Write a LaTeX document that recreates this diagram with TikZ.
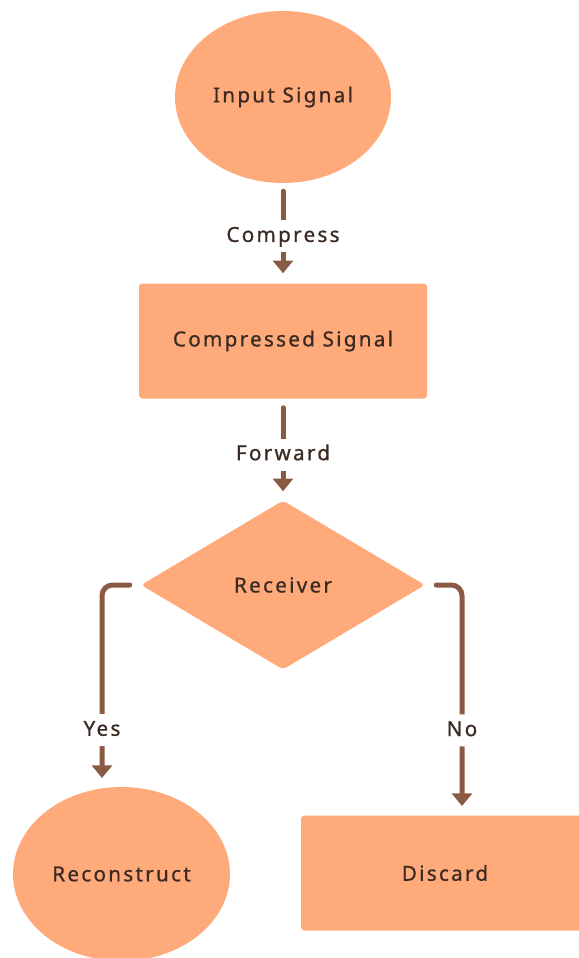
\documentclass[tikz,border=0pt]{standalone}
\usepackage{fontspec}
\setmainfont[LetterSpace=11,FakeBold=0.8]{Noto Sans}
\usetikzlibrary{shapes.geometric,arrows.meta}
\definecolor{boxfill}{HTML}{FFAA7A}
\definecolor{linkbrown}{HTML}{8A5A44}
\definecolor{inkbrown}{HTML}{3B2A22}
\begin{document}
\begin{tikzpicture}[x=0.75pt,y=-0.75pt,
  every node/.style={font=\fontsize{15.5}{18}\selectfont, text=inkbrown},
  oval/.style={ellipse, fill=boxfill, inner sep=0pt},
  box/.style={rectangle, fill=boxfill, rounded corners=2.5pt, inner sep=0pt},
  decision/.style={diamond, fill=boxfill, inner sep=0pt, rounded corners=3pt},
  link/.style={draw=linkbrown, line width=3.75pt, line cap=round,
    -{Triangle[width=15pt,length=9.5pt]}},
  elbow/.style={link, rounded corners=8pt},
  tag/.style={fill=white, text height=11.5pt, text depth=3pt, inner xsep=3pt, inner ysep=4.8pt}
]
\useasboundingbox (0,0) rectangle (579,958);
\clip (0,0) rectangle (579,958);

% shapes
\node[oval, minimum width=162pt, minimum height=129pt] (input) at (283,97) {Input Signal};
\node[box, minimum width=216pt, minimum height=86.25pt] (comp) at (283,341) {Compressed Signal};
\node[decision, minimum width=213pt, minimum height=126.75pt] (recv) at (283,585) {Receiver};
\node[oval, minimum width=162.75pt, minimum height=130.5pt] (recon) at (121.5,874) {Reconstruct};
\node[box, minimum width=216pt, minimum height=86.25pt] (disc) at (445,873) {Discard};

% free ends of the branch arrows
\coordinate (yesend) at (102,778);
\coordinate (noend) at (462,806);

% connectors
\draw[link, shorten <=6pt, shorten >=7.5pt] (input) -- node[tag, pos=0.53] (lcomp) {Compress} (comp);
\draw[link, shorten <=6.75pt, shorten >=6.75pt] (comp) -- node[tag, pos=0.55] (lfwd) {Forward} (recv);
\draw[elbow, shorten <=8.25pt] (recv.west) -| node[tag, pos=0.876] (lyes) {Yes} (yesend);
\draw[elbow, shorten <=8.25pt] (recv.east) -| node[tag, pos=0.829] (lno) {No} (noend);
\end{tikzpicture}
\end{document}
